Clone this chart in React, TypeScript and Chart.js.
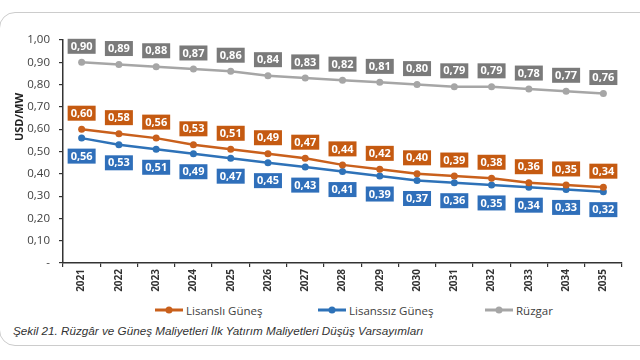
import React, { useEffect, useRef } from "react";
import { Chart, registerables } from "chart.js";

Chart.register(...registerables);

const years = ["2021", "2022", "2023", "2024", "2025", "2026", "2027", "2028", "2029", "2030", "2031", "2032", "2033", "2034", "2035"];
const lisansliGunes = [0.60, 0.58, 0.56, 0.53, 0.51, 0.49, 0.47, 0.44, 0.42, 0.40, 0.39, 0.38, 0.36, 0.35, 0.34];
const lisanssizGunes = [0.56, 0.53, 0.51, 0.49, 0.47, 0.45, 0.43, 0.41, 0.39, 0.37, 0.36, 0.35, 0.34, 0.33, 0.32];
const ruzgar = [0.90, 0.89, 0.88, 0.87, 0.86, 0.84, 0.83, 0.82, 0.81, 0.80, 0.79, 0.79, 0.78, 0.77, 0.76];

const seriesNames = ["Lisanslı Güneş", "Lisanssız Güneş", "Rüzgar"];
const lineColors = ["#c9601c", "#2e72b8", "#a6a6a6"];
const boxColors = ["#c55a11", "#2f6fba", "#7a7a7a"];
const labelSides = ["above", "below", "above"];
const yTitle = "USD/MW";
const caption = "Şekil 21. Rüzgâr ve Güneş Maliyetleri İlk Yatırım Maliyetleri Düşüş Varsayımları";

const fmt = (v: number) => v.toFixed(2).replace(".", ",");

const boxLabelPlugin = {
  id: "boxLabels",
  afterDatasetsDraw(chart: any) {
    const ctx = chart.ctx;
    chart.data.datasets.forEach((ds: any, i: number) => {
      const meta = chart.getDatasetMeta(i);
      meta.data.forEach((pt: any, j: number) => {
        const txt = fmt(ds.data[j]);
        ctx.save();
        ctx.font = "bold 11px 'Open Sans'";
        const w = 28;
        const h = 15;
        const cy = ds.labelSide === "above" ? pt.y - 16 : pt.y + 18;
        ctx.fillStyle = ds.boxColor;
        ctx.fillRect(pt.x - w / 2, cy - h / 2, w, h);
        ctx.fillStyle = "#ffffff";
        ctx.textAlign = "center";
        ctx.textBaseline = "middle";
        ctx.fillText(txt, pt.x, cy + 0.5);
        ctx.restore();
      });
    });
    // y axis title
    const a = chart.chartArea;
    ctx.save();
    ctx.translate(20, a.top + 77);
    ctx.rotate(-Math.PI / 2);
    ctx.font = "bold 11px 'Open Sans'";
    ctx.fillStyle = "#222";
    ctx.textAlign = "center";
    ctx.textBaseline = "middle";
    ctx.fillText(yTitle, 0, 0);
    ctx.restore();
  },
};

export default function App() {
  const ref = useRef<HTMLCanvasElement | null>(null);

  useEffect(() => {
    if (!ref.current) return;
    const seriesData = [lisansliGunes, lisanssizGunes, ruzgar];
    const chart = new Chart(ref.current, {
      type: "line",
      data: {
        labels: years,
        datasets: seriesData.map((d, i) => ({
          label: seriesNames[i],
          data: d,
          borderColor: lineColors[i],
          backgroundColor: lineColors[i],
          borderWidth: 2.5,
          pointRadius: 3.5,
          pointBackgroundColor: lineColors[i],
          pointBorderWidth: 0,
          tension: 0,
          boxColor: boxColors[i],
          labelSide: labelSides[i],
        })) as any,
      },
      options: {
        responsive: false,
        animation: false,
        devicePixelRatio: 1,
        layout: { padding: { top: 40, left: 10, right: 18, bottom: 0 } },
        plugins: {
          legend: { display: false },
          tooltip: { enabled: false },
        },
        scales: {
          x: {
            type: "category",
            offset: true,
            grid: { offset: true, drawOnChartArea: false, drawTicks: true, tickLength: 4, color: "#333", lineWidth: 1.2 },
            border: { display: true, color: "#333", width: 1.5 },
            ticks: {
              minRotation: 90,
              maxRotation: 90,
              padding: 2,
              color: "#333",
              font: { family: "'Open Sans'", size: 10, weight: "bold" },
            },
            afterFit: (s: any) => { s.height = 37; },
          },
          y: {
            min: 0,
            max: 1,
            ticks: {
              stepSize: 0.1,
              padding: 9,
              color: "#404040",
              font: { family: "'Open Sans'", size: 11.5 },
              callback: (v: any) => (Number(v) === 0 ? "-" : fmt(Number(v))),
            },
            grid: { drawOnChartArea: false, drawTicks: true, tickLength: 4, color: "#333", lineWidth: 1.2 },
            border: { display: true, color: "#333", width: 1.5 },
            afterFit: (s: any) => { s.width = 53; },
          },
        },
      } as any,
      plugins: [boxLabelPlugin],
    });
    return () => chart.destroy();
  }, []);

  const legendLeft = [155, 318, 485];

  return (
    <div style={{ position: "fixed", left: 0, top: 0, width: 640, height: 360, background: "#fff", overflow: "hidden" }}>
      <div
        style={{
          position: "absolute",
          left: -1,
          top: 12,
          width: 680,
          height: 332,
          border: "1.5px solid #cccccc",
          borderRadius: 16,
        }}
      />
      <canvas ref={ref} width={640} height={300} style={{ position: "absolute", left: 0, top: 0 }} />
      {seriesNames.map((n, i) => (
        <div
          key={n}
          style={{
            position: "absolute",
            left: legendLeft[i],
            top: 301,
            height: 18,
            display: "flex",
            alignItems: "center",
            fontFamily: "'Open Sans'",
            fontSize: 11.5,
            color: "#404040",
            whiteSpace: "nowrap",
          }}
        >
          <svg width={30} height={10} style={{ marginRight: 1 }}>
            <line x1={0} y1={5} x2={28} y2={5} stroke={lineColors[i]} strokeWidth={3} />
            <circle cx={14} cy={5} r={3.5} fill={lineColors[i]} />
          </svg>
          {n}
        </div>
      ))}
      <div
        style={{
          position: "absolute",
          left: 13,
          top: 324,
          fontFamily: "'Liberation Sans'",
          fontStyle: "italic",
          fontSize: 11.7,
          color: "#333",
          whiteSpace: "nowrap",
        }}
      >
        {caption}
      </div>
    </div>
  );
}
